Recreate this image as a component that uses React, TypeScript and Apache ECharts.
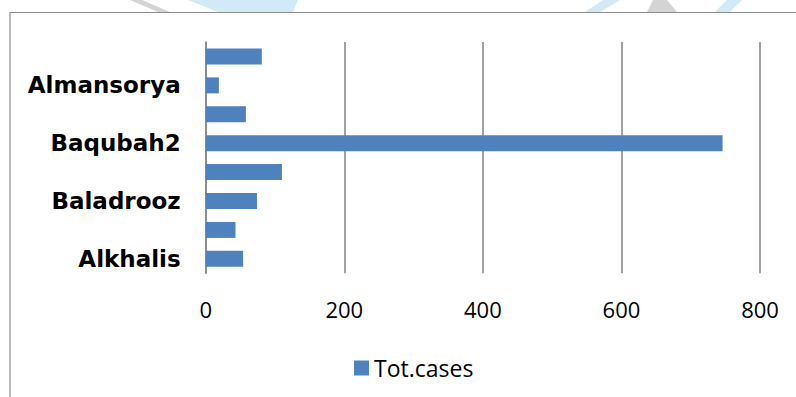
import React, { useEffect, useRef } from "react";
import * as echarts from "echarts";

// bottom to top
const categories = [
  "Alkhalis",
  "Kanaan",
  "Baladrooz",
  "Khanaqin",
  "Baqubah2",
  "Baqubah1",
  "Almansorya",
  "Almuqdadiya",
];
const totCases = [54, 43, 74, 110, 746, 58, 19, 81];
const seriesName = "Tot.cases";
const xMin = 0;
const xMax = 800;
const xStep = 200;

export default function App() {
  const ref = useRef<HTMLDivElement>(null);
  useEffect(() => {
    if (!ref.current) return;
    const chart = echarts.init(ref.current, null, { renderer: "svg" });
    const blue = "#d2e9f8";
    const grey = "#d4d4d4";
    chart.setOption({
      animation: false,
      backgroundColor: "#ffffff",
      grid: { left: 205.7, right: 36, top: 42, bottom: 123.7, containLabel: false },
      legend: {
        data: [seriesName],
        left: 354,
        top: 356.5,
        padding: 0,
        itemWidth: 15,
        itemHeight: 15,
        icon: "rect",
        textStyle: { fontFamily: "Open Sans", fontSize: 23, color: "#000" },
      },
      xAxis: {
        type: "value",
        min: xMin,
        max: xMax,
        interval: xStep,
        axisLine: { show: false },
        axisTick: { show: false },
        axisLabel: {
          fontFamily: "Open Sans",
          fontSize: 22,
          color: "#000",
          margin: 25,
        },
        splitLine: { lineStyle: { color: "#8a8a8a", width: 1.6 } },
      },
      yAxis: {
        type: "category",
        data: categories,
        axisTick: { show: false },
        axisLine: { show: true, lineStyle: { color: "#8a8a8a", width: 1.6 } },
        axisLabel: {
          interval: 1,
          fontFamily: "DejaVu Sans",
          fontWeight: "bold",
          fontSize: 23,
          color: "#000",
          margin: 25,
        },
      },
      series: [
        {
          type: "bar",
          name: seriesName,
          data: totCases,
          barWidth: 16,
          itemStyle: { color: "#4f81bd" },
        },
      ],
      graphic: [
        { type: "polygon", z: -1, shape: { points: [[130, 0], [142, 0], [170, 12], [158, 12]] }, style: { fill: grey } },
        { type: "polygon", z: -1, shape: { points: [[188, 0], [298, 0], [293, 12], [218, 12]] }, style: { fill: blue } },
        { type: "polygon", z: -1, shape: { points: [[603, 0], [620, 0], [600, 12], [585, 12]] }, style: { fill: blue } },
        { type: "polygon", z: -1, shape: { points: [[653, 0], [667, 0], [677, 12], [647, 12]] }, style: { fill: grey } },
        { type: "polygon", z: -1, shape: { points: [[727, 0], [742, 0], [730, 12], [715, 12]] }, style: { fill: blue } },
        {
          type: "rect",
          z: 0,
          shape: { x: 10, y: 12.5, width: 800, height: 400 },
          style: { fill: "none", stroke: "#8c8c8c", lineWidth: 1.2 },
          silent: true,
        },
      ],
    });
    return () => chart.dispose();
  }, []);
  return (
    <div
      ref={ref}
      style={{ position: "fixed", left: 0, top: 0, width: 796, height: 397 }}
    />
  );
}
